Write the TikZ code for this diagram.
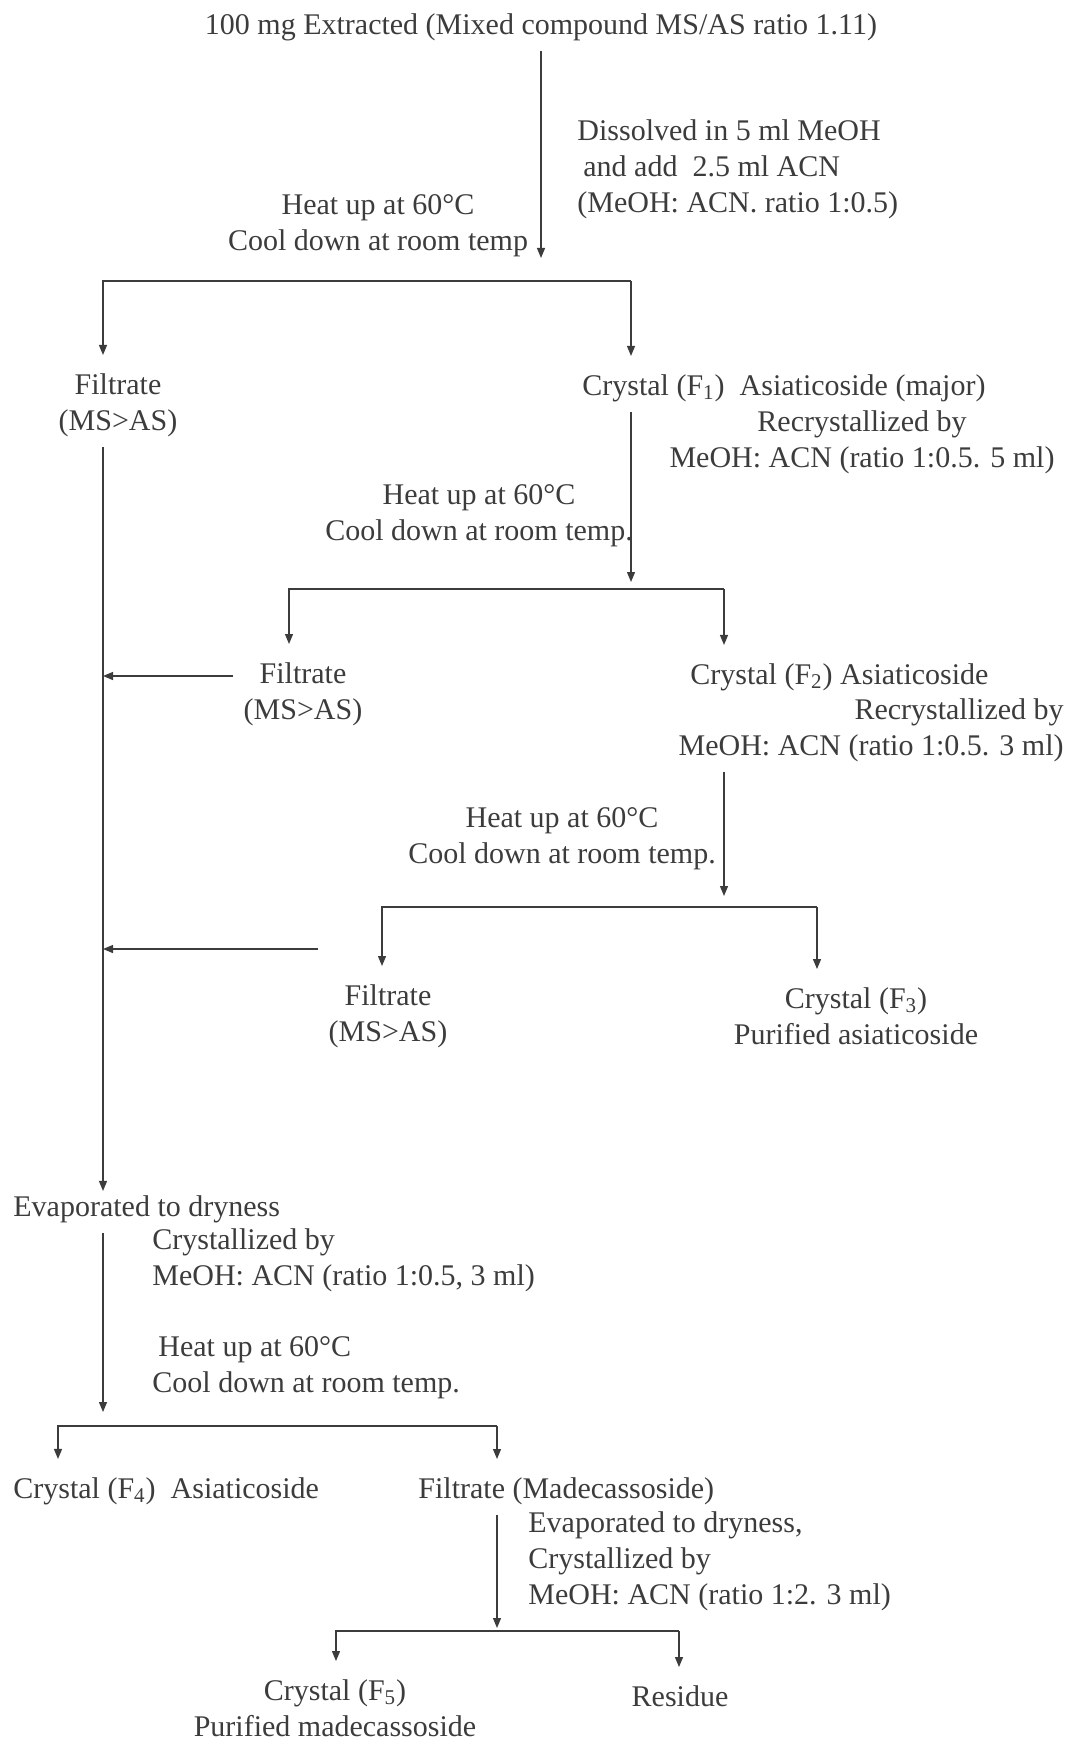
\documentclass[tikz,border=0pt]{standalone}
\usepackage{fontspec}
\setmainfont{Liberation Serif}
\usetikzlibrary{arrows.meta,positioning}
\definecolor{cInk}{HTML}{3C3C3C}

\begin{document}
\begin{tikzpicture}[
    x=0.5pt, y=-0.5pt,
    lbl/.style={font=\fontsize{15}{18}\selectfont, text=cInk, inner sep=5pt},
    arr/.style={-{Triangle[length=5pt, width=4pt]}, cInk, line width=0.6pt},
    drop/.style={arr, shorten >=4pt},
]
\useasboundingbox (0,0) rectangle (1067,1743);

% Stage 1
\node[lbl] (top) at (541, 27) {100 mg Extracted (Mixed compound MS/AS ratio 1.11)};
\node[lbl, anchor=west, align=left] (dis) at (567, 169) {Dissolved in 5 ml MeOH\\\hspace{3pt}and add\ \ 2.5 ml ACN\\(MeOH: ACN. ratio 1:0.5)};
\node[lbl, align=center] (ht1) at (378, 226) {Heat up at 60°C\\Cool down at room temp};
\coordinate (j1) at (541, 258);
\coordinate (b1l) at (103, 281);
\coordinate (b1r) at (631, 281);
\draw[arr] (top) -- (j1);

\node[lbl, align=center] (fi1) at (118, 405) {Filtrate\\(MS>AS)};
\node[lbl, anchor=west] (cr1) at (572, 388) {Crystal (F\textsubscript{1})\ \ Asiaticoside (major)};
\node[lbl, align=center] (rc1) at (862, 442) {Recrystallized by\\MeOH: ACN (ratio 1:0.5. 5 ml)};
\draw[drop] (b1r) -- (b1l) -- (b1l |- fi1.north);
\draw[drop] (b1r) -- (b1r |- cr1.north);

% Stage 2
\node[lbl, align=center] (ht2) at (479, 516) {Heat up at 60°C\\Cool down at room temp.};
\coordinate (j2) at (631, 582);
\coordinate (b2l) at (289, 589);
\coordinate (b2r) at (724, 589);
\draw[arr] (cr1.south -| j2) -- (j2);

\node[lbl, align=center] (fi2) at (303, 694) {Filtrate\\(MS>AS)};
\node[lbl, anchor=west] (cr2) at (680, 677) {Crystal (F\textsubscript{2}) Asiaticoside};
\node[lbl, anchor=east, align=right] (rc2) at (1074, 730) {Recrystallized by\\MeOH: ACN (ratio 1:0.5. 3 ml)};
\draw[drop] (b2r) -- (b2l) -- (b2l |- fi2.north);
\draw[drop] (b2r) -- (b2r |- cr2.north);
\coordinate (s2) at ([yshift=-12pt]fi2.north west);
\draw[arr] (s2) -- (s2 -| b1l);

% Stage 3
\node[lbl, align=center] (ht3) at (562, 839) {Heat up at 60°C\\Cool down at room temp.};
\coordinate (j3) at (724, 896);
\coordinate (b3l) at (382, 907);
\coordinate (b3r) at (817, 907);
\draw[arr] (rc2.south -| j3) -- (j3);

\node[lbl, align=center] (fi3) at (388, 1016) {Filtrate\\(MS>AS)};
\node[lbl, align=center] (cr3) at (856, 1016) {Crystal (F\textsubscript{3})\\Purified asiaticoside};
\draw[drop] (b3r) -- (b3l) -- (b3l |- fi3.north);
\draw[drop] (b3r) -- (b3r |- cr3.north);
\coordinate (s3) at ([yshift=12.5pt]fi3.north west);
\draw[arr] (s3) -- (s3 -| b1l);

% Filtrate line
\node[lbl, anchor=west] (ev1) at (3, 1209) {Evaporated to dryness};
\draw[arr, shorten >=-3pt] (fi1.south -| b1l) -- (ev1.north -| b1l);

% Stage 4
\node[lbl, anchor=west, align=left] (cb1) at (142, 1260) {Crystallized by\\MeOH: ACN (ratio 1:0.5, 3 ml)};
\node[lbl, anchor=west, align=left] (ht4) at (142, 1368) {\hspace{3pt}Heat up at 60°C\\Cool down at room temp.};
\coordinate (j4) at (103, 1412);
\coordinate (b4l) at (58, 1426);
\coordinate (b4r) at (497, 1426);
\draw[arr] (ev1.south -| j4) -- (j4);

\node[lbl, anchor=west] (cr4) at (3, 1491) {Crystal (F\textsubscript{4})\ \ Asiaticoside};
\node[lbl, anchor=west] (fm) at (408, 1491) {Filtrate (Madecassoside)};
\draw[drop] (b4r) -- (b4l) -- (b4l |- cr4.north);
\draw[drop] (b4r) -- (b4r |- fm.north);

% Stage 5
\node[lbl, anchor=west, align=left] (ev2) at (518, 1561) {Evaporated to dryness,\\Crystallized by\\MeOH: ACN (ratio 1:2. 3 ml)};
\coordinate (j5) at (497, 1628);
\coordinate (b5l) at (336, 1631);
\coordinate (b5r) at (679, 1631);
\draw[arr] (fm.south -| j5) -- (j5);

\node[lbl, align=center] (cr5) at (335, 1708) {Crystal (F\textsubscript{5})\\Purified madecassoside};
\node[lbl] (rs) at (680, 1696) {Residue};
\draw[drop] (b5r) -- (b5l) -- (b5l |- cr5.north);
\draw[drop] (b5r) -- (b5r |- rs.north);

\end{tikzpicture}
\end{document}
